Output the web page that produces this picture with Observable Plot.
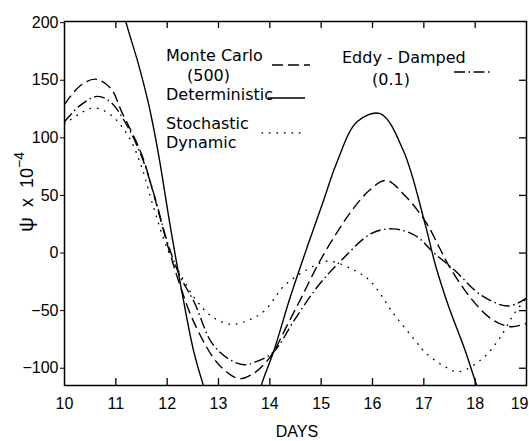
<!DOCTYPE html>
<html>
<head>
<meta charset="utf-8">
<script src="https://cdn.jsdelivr.net/npm/d3@7"></script>
<script src="https://cdn.jsdelivr.net/npm/@observablehq/plot@0.6"></script>
<style>
  html, body { margin: 0; padding: 0; background: #fff; }
  #chart { width: 529px; height: 441px; }
</style>
</head>
<body>
<div id="chart"></div>
<script>
// ---- data ----
const xTicks = [10, 11, 12, 13, 14, 15, 16, 17, 18, 19];
const yTicks = [-100, -50, 0, 50, 100, 150, 200];

const monteCarloDays = [10.0, 10.3, 10.6, 10.9, 11.11, 11.5, 11.75, 12.0, 12.25, 12.5, 12.87, 13.1, 13.4, 13.7, 13.9, 14.07, 14.3, 14.6, 14.95, 15.34, 15.6, 15.93, 16.26, 16.65, 17.05, 17.3, 17.5, 17.93, 18.34, 18.7, 19.0];
const monteCarloPsi  = [129, 145, 151, 143, 123, 86, 49, 8, -28, -58, -89, -101, -109, -104, -96, -86, -66, -40, -9, 20, 37, 54, 63, 49, 26, 5, -12, -40, -58, -64, -61];

const deterministicDays = [11.0, 11.2, 11.44, 11.64, 11.83, 12.05, 12.28, 12.51, 12.7, 12.9, 13.3, 13.7, 13.84, 14.07, 14.4, 14.75, 15.05, 15.3, 15.7, 16.15, 16.6, 17.02, 17.23, 17.48, 17.8, 18.07, 18.3];
const deterministicPsi  = [235, 200, 164, 129, 86, 26, -32, -84, -114, -140, -170, -140, -114, -86, -38, 8, 46, 78, 114, 121, 89, 26, -11, -46, -84, -120, -145];

const stochasticDays = [10.0, 10.3, 10.57, 10.9, 11.25, 11.5, 11.7, 12.0, 12.25, 12.6, 12.9, 13.25, 13.6, 13.9, 14.29, 14.87, 15.15, 15.6, 15.95, 16.4, 16.85, 17.02, 17.35, 17.68, 18.13, 18.46, 18.77, 19.04];
const stochasticPsi  = [112, 121, 126, 120, 101, 75, 45, 4, -18, -43, -56, -62, -58, -50, -28, -11, -7, -14, -24, -52, -77, -86, -97, -103, -92, -75, -52, -37];

const eddyDays = [10.0, 10.3, 10.64, 10.9, 11.2, 11.5, 11.75, 12.0, 12.25, 12.53, 12.87, 13.2, 13.5, 13.75, 14.07, 14.48, 14.95, 15.4, 15.98, 16.4, 16.84, 17.2, 17.6, 18.13, 18.65, 19.0];
const eddyPsi  = [114, 128, 136, 131, 112, 84, 50, 10, -20, -43, -78, -92, -97, -94, -86, -58, -28, -6, 17, 21, 15, 0, -15, -37, -46, -39];

const legendLabels = ["Monte Carlo", "(500)", "Deterministic", "Stochastic", "Dynamic", "Eddy - Damped", "(0.1)"];
const xLabel = "DAYS";

// ---- build tables ----
const toRows = (days, psi) => days.map((d, i) => ({day: d, psi: psi[i]}));
const mc = toRows(monteCarloDays, monteCarloPsi);
const det = toRows(deterministicDays, deterministicPsi);
const sto = toRows(stochasticDays, stochasticPsi);
const eddy = toRows(eddyDays, eddyPsi);

const FONT = "Liberation Sans, Arial, sans-serif";
const LFONT = "DejaVu Sans, sans-serif";
const W = 529, H = 441;
const mL = 64, mR = 3, mT = 21, mB = 56;
const plotW = W - mL - mR, plotH = H - mT - mB;

const styles = {
  mc:   {dash: "11,5", cap: "butt"},
  det:  {dash: null, cap: "butt"},
  sto:  {dash: "0.5,7", cap: "round"},
  eddy: {dash: "11,3.5,1.5,3.5", cap: "butt"}
};

function legendAndLabels(index, scales, values, dimensions) {
  const g = d3.create("svg:g").attr("font-family", LFONT).attr("fill", "black")
    .attr("text-anchor", "start");
  const texts = [
    [legendLabels[0], 166, 61],
    [legendLabels[1], 187, 81],
    [legendLabels[2], 166, 100],
    [legendLabels[3], 166, 129],
    [legendLabels[4], 166, 148],
    [legendLabels[5], 342, 63],
    [legendLabels[6], 372, 85]
  ];
  for (const [t, x, y] of texts) {
    g.append("text").attr("x", x).attr("y", y).attr("font-size", 16).text(t);
  }
  const keys = [
    ["mc", 272, 310, 65],
    ["det", 268, 305, 98],
    ["sto", 262, 306, 133],
    ["eddy", 454, 492, 72]
  ];
  for (const [k, x1, x2, y] of keys) {
    const l = g.append("line").attr("x1", x1).attr("x2", x2).attr("y1", y).attr("y2", y)
      .attr("stroke", "black").attr("stroke-width", 1.4).attr("stroke-linecap", styles[k].cap);
    if (styles[k].dash) l.attr("stroke-dasharray", styles[k].dash);
  }
  // y-axis label
  const yl = g.append("text").attr("transform", "translate(33,192) rotate(-90)")
    .attr("text-anchor", "middle").attr("font-family", FONT).attr("font-size", 18);
  yl.append("tspan").attr("font-size", 21).text("ψ");
  yl.append("tspan").text("  x  10");
  yl.append("tspan").attr("font-size", 14).attr("dy", -9).text("−4");
  // x-axis label
  g.append("text").attr("x", 297).attr("y", 437).attr("text-anchor", "middle")
    .attr("font-family", FONT).attr("font-size", 16).text(xLabel);
  return g.node();
}

const lineMark = (data, k) => Plot.line(data, {
  x: "day", y: "psi", curve: "catmull-rom", stroke: "black", strokeWidth: 1.4,
  strokeDasharray: styles[k].dash || undefined, strokeLinecap: styles[k].cap, clip: true
});

const lastTick = xTicks[xTicks.length - 1];

const chart = Plot.plot({
  width: W, height: H,
  marginLeft: mL, marginRight: mR, marginTop: mT, marginBottom: mB,
  style: {fontFamily: FONT, fontSize: "16px", background: "white", color: "black"},
  x: {domain: [10, 19]},
  y: {domain: [-115, 201]},
  marks: [
    Plot.frame({stroke: "black", strokeWidth: 1.5}),
    Plot.axisY({ticks: yTicks, tickSize: 4, tickPadding: 2, label: null, fontSize: 16}),
    Plot.axisX({ticks: xTicks.slice(0, -1), tickSize: 0, tickPadding: 12, label: null, fontSize: 16}),
    Plot.text([lastTick], {x: d => d, frameAnchor: "bottom", text: d => String(d), textAnchor: "end",
      lineAnchor: "top", dy: 12, dx: 2, fontSize: 16}),
    Plot.ruleX(xTicks.slice(1, -1), {x: d => d, insetTop: plotH - 7, stroke: "black", strokeWidth: 1.3}),
    Plot.ruleX(xTicks.slice(1, -1), {x: d => d, insetBottom: plotH - 7, stroke: "black", strokeWidth: 1.3}),
    Plot.ruleY(yTicks.slice(0, -1), {y: d => d, insetLeft: plotW - 7, stroke: "black", strokeWidth: 1.3}),
    lineMark(mc, "mc"),
    lineMark(det, "det"),
    lineMark(sto, "sto"),
    lineMark(eddy, "eddy"),
    legendAndLabels
  ]
});
document.getElementById("chart").appendChild(chart);
</script>
</body>
</html>
